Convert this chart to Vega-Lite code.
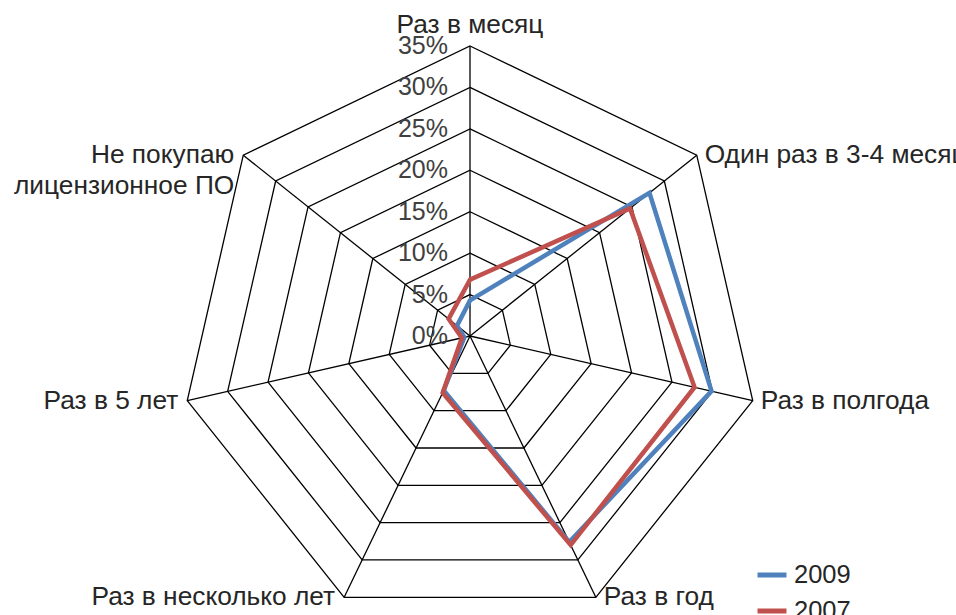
{
  "$schema": "https://vega.github.io/schema/vega-lite/v6.json",
  "width": 956,
  "height": 615,
  "autosize": "none",
  "padding": 0,
  "background": "white",
  "config": {
    "view": {"stroke": null},
    "font": "Liberation Sans",
    "legend": {
      "orient": "none",
      "legendX": 755,
      "legendY": 558,
      "padding": 0,
      "title": null,
      "symbolType": "stroke",
      "symbolSize": 841,
      "symbolStrokeWidth": 5,
      "labelFont": "Liberation Sans",
      "labelFontSize": 25.5,
      "labelColor": "#262626",
      "labelOffset": 5,
      "rowPadding": 5
    }
  },
  "datasets": {
    "series": [
      {"year": "2009", "i": 0, "cat": "Раз в месяц", "value": 4.3},
      {"year": "2009", "i": 1, "cat": "Один раз в 3-4 месяца", "value": 27.7},
      {"year": "2009", "i": 2, "cat": "Раз в полгода", "value": 29.9},
      {"year": "2009", "i": 3, "cat": "Раз в год", "value": 27.6},
      {"year": "2009", "i": 4, "cat": "Раз в несколько лет", "value": 7.3},
      {"year": "2009", "i": 5, "cat": "Раз в 5 лет", "value": 0.7},
      {"year": "2009", "i": 6, "cat": "Не покупаю лицензионное ПО", "value": 2.0},
      {"year": "2007", "i": 0, "cat": "Раз в месяц", "value": 6.8},
      {"year": "2007", "i": 1, "cat": "Один раз в 3-4 месяца", "value": 24.7},
      {"year": "2007", "i": 2, "cat": "Раз в полгода", "value": 27.8},
      {"year": "2007", "i": 3, "cat": "Раз в год", "value": 28.0},
      {"year": "2007", "i": 4, "cat": "Раз в несколько лет", "value": 7.6},
      {"year": "2007", "i": 5, "cat": "Раз в 5 лет", "value": 1.0},
      {"year": "2007", "i": 6, "cat": "Не покупаю лицензионное ПО", "value": 3.3}
    ],
    "cats": [
      {"i": 0, "label": "Раз в месяц", "levels": [5, 10, 15, 20, 25, 30, 35]},
      {"i": 1, "label": "Один раз в 3-4 месяца", "levels": [5, 10, 15, 20, 25, 30, 35]},
      {"i": 2, "label": "Раз в полгода", "levels": [5, 10, 15, 20, 25, 30, 35]},
      {"i": 3, "label": "Раз в год", "levels": [5, 10, 15, 20, 25, 30, 35]},
      {"i": 4, "label": "Раз в несколько лет", "levels": [5, 10, 15, 20, 25, 30, 35]},
      {"i": 5, "label": "Раз в 5 лет", "levels": [5, 10, 15, 20, 25, 30, 35]},
      {"i": 6, "label": "Не покупаю\nлицензионное ПО", "levels": [5, 10, 15, 20, 25, 30, 35]}
    ],
    "ticks": [
      {"lv": 0, "t": "0%"},
      {"lv": 5, "t": "5%"},
      {"lv": 10, "t": "10%"},
      {"lv": 15, "t": "15%"},
      {"lv": 20, "t": "20%"},
      {"lv": 25, "t": "25%"},
      {"lv": 30, "t": "30%"},
      {"lv": 35, "t": "35%"}
    ]
  },
  "layer": [
    {
      "data": {"name": "cats"},
      "transform": [
        {"flatten": ["levels"], "as": ["lv"]},
        {"calculate": "datum.i * 2 * PI / 7", "as": "a"},
        {"calculate": "datum.lv * sin(datum.a)", "as": "px"},
        {"calculate": "datum.lv * cos(datum.a)", "as": "py"}
      ],
      "mark": {"type": "line", "interpolate": "linear-closed", "stroke": "#000000", "strokeWidth": 1.3},
      "encoding": {
        "x": {"field": "px", "type": "quantitative", "axis": null, "scale": {"domain": [-56.724, 58.655], "nice": false, "zero": false}},
        "y": {"field": "py", "type": "quantitative", "axis": null, "scale": {"domain": [-33.672, 40.552], "nice": false, "zero": false}},
        "detail": {"field": "lv", "type": "nominal"},
        "order": {"field": "i", "type": "quantitative"}
      }
    },
    {
      "data": {"name": "cats"},
      "transform": [
        {"calculate": "datum.i * 2 * PI / 7", "as": "a"},
        {"calculate": "0", "as": "z"},
        {"calculate": "35 * sin(datum.a)", "as": "sx"},
        {"calculate": "35 * cos(datum.a)", "as": "sy"}
      ],
      "mark": {"type": "rule", "stroke": "#000000", "strokeWidth": 1.3},
      "encoding": {
        "x": {"field": "z", "type": "quantitative", "axis": null},
        "y": {"field": "z", "type": "quantitative", "axis": null},
        "x2": {"field": "sx"},
        "y2": {"field": "sy"}
      }
    },
    {
      "data": {"name": "series"},
      "transform": [
        {"filter": "datum.year == '2009'"},
        {"calculate": "datum.i * 2 * PI / 7", "as": "a"},
        {"calculate": "datum.value * sin(datum.a)", "as": "px"},
        {"calculate": "datum.value * cos(datum.a)", "as": "py"}
      ],
      "mark": {"type": "line", "interpolate": "linear-closed", "strokeWidth": 4.5},
      "encoding": {
        "x": {"field": "px", "type": "quantitative", "axis": null},
        "y": {"field": "py", "type": "quantitative", "axis": null},
        "order": {"field": "i", "type": "quantitative"},
        "color": {"field": "year", "type": "nominal", "scale": {"domain": ["2009", "2007"], "range": ["#4F81BD", "#C0504D"]}}
      }
    },
    {
      "data": {"name": "series"},
      "transform": [
        {"filter": "datum.year == '2007'"},
        {"calculate": "datum.i * 2 * PI / 7", "as": "a"},
        {"calculate": "datum.value * sin(datum.a)", "as": "px"},
        {"calculate": "datum.value * cos(datum.a)", "as": "py"}
      ],
      "mark": {"type": "line", "interpolate": "linear-closed", "strokeWidth": 4.5},
      "encoding": {
        "x": {"field": "px", "type": "quantitative", "axis": null},
        "y": {"field": "py", "type": "quantitative", "axis": null},
        "order": {"field": "i", "type": "quantitative"},
        "color": {"field": "year", "type": "nominal"}
      }
    },
    {
      "data": {"name": "ticks"},
      "mark": {"type": "text", "align": "right", "baseline": "middle", "dx": -22, "fontSize": 25, "font": "Liberation Sans", "fill": "#404040"},
      "encoding": {
        "x": {"datum": 0, "type": "quantitative"},
        "y": {"field": "lv", "type": "quantitative"},
        "text": {"field": "t"}
      }
    },
    {
      "data": {"name": "cats"},
      "transform": [
        {"filter": "datum.i == 0"},
        {"calculate": "datum.i * 2 * PI / 7", "as": "a"},
        {"calculate": "35 * sin(datum.a)", "as": "sx"},
        {"calculate": "35 * cos(datum.a)", "as": "sy"}
      ],
      "mark": {"type": "text", "align": "center", "baseline": "alphabetic", "dy": -13, "fontSize": 26.3, "font": "Liberation Sans", "fill": "#262626"},
      "encoding": {
        "x": {"field": "sx", "type": "quantitative"},
        "y": {"field": "sy", "type": "quantitative"},
        "text": {"field": "label"}
      }
    },
    {
      "data": {"name": "cats"},
      "transform": [
        {"filter": "datum.i >= 1 && datum.i <= 3"},
        {"calculate": "datum.i * 2 * PI / 7", "as": "a"},
        {"calculate": "35 * sin(datum.a)", "as": "sx"},
        {"calculate": "35 * cos(datum.a)", "as": "sy"}
      ],
      "mark": {"type": "text", "align": "left", "baseline": "middle", "dx": 8, "fontSize": 26.3, "font": "Liberation Sans", "fill": "#262626"},
      "encoding": {
        "x": {"field": "sx", "type": "quantitative"},
        "y": {"field": "sy", "type": "quantitative"},
        "text": {"field": "label"}
      }
    },
    {
      "data": {"name": "cats"},
      "transform": [
        {"filter": "datum.i >= 4"},
        {"calculate": "datum.i * 2 * PI / 7", "as": "a"},
        {"calculate": "35 * sin(datum.a)", "as": "sx"},
        {"calculate": "35 * cos(datum.a)", "as": "sy"}
      ],
      "mark": {"type": "text", "align": "right", "baseline": "middle", "dx": -9, "fontSize": 26.3, "font": "Liberation Sans", "fill": "#262626", "lineBreak": "\n", "lineHeight": 30.5},
      "encoding": {
        "x": {"field": "sx", "type": "quantitative"},
        "y": {"field": "sy", "type": "quantitative"},
        "text": {"field": "label"}
      }
    }
  ]
}
